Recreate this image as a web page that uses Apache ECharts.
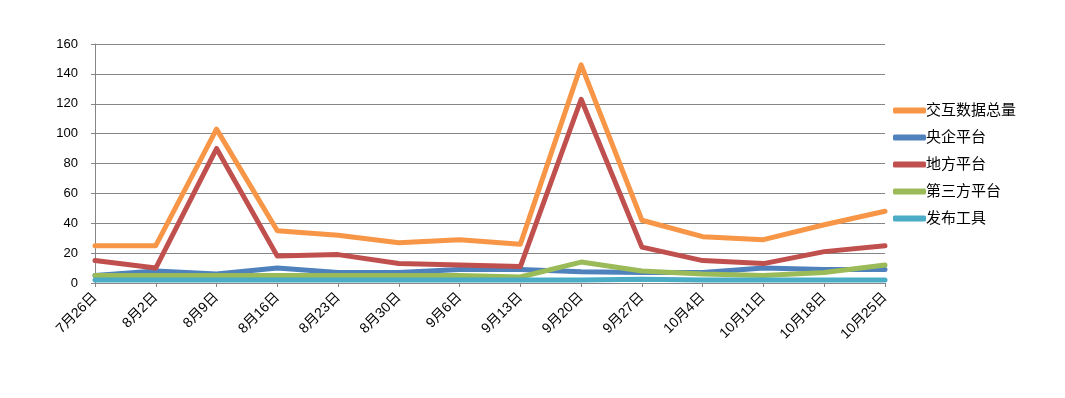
<!DOCTYPE html>
<html>
<head>
<meta charset="utf-8">
<script src="https://cdn.jsdelivr.net/npm/echarts@6/dist/echarts.min.js"></script>
<style>
  html, body { margin: 0; padding: 0; background: #fff; }
  #chart { width: 1065px; height: 398px; }
</style>
</head>
<body>
<div id="chart"></div>
<script>
const dates = ["7月26日", "8月2日", "8月9日", "8月16日", "8月23日", "8月30日", "9月6日",
  "9月13日", "9月20日", "9月27日", "10月4日", "10月11日", "10月18日", "10月25日"];
const total = [25, 25, 103, 35, 32, 27, 29, 26, 146, 42, 31, 29, 39, 48];
const central = [5, 8, 6, 10, 7, 7, 9, 9, 7.5, 7, 7, 10, 9, 9];
const local = [15, 10, 90, 18, 19, 13, 12, 11, 123, 24, 15, 13, 21, 25];
const thirdParty = [5, 5, 5, 5, 5, 5, 5, 4, 14, 8, 6, 5, 7, 12];
const publishTool = [2, 2, 2, 2, 2, 2, 2, 2, 2, 2.5, 2, 2, 2, 2];

const names = ["交互数据总量", "央企平台", "地方平台", "第三方平台", "发布工具"];
const colors = ["#F79646", "#4F81BD", "#C0504D", "#9BBB59", "#4BACC6"];
const values = [total, central, local, thirdParty, publishTool];

const font = "'Liberation Sans', 'Noto Sans CJK SC', sans-serif";

const chart = echarts.init(document.getElementById("chart"));
chart.setOption({
  animation: false,
  color: colors,
  textStyle: { fontFamily: font },
  grid: { left: 95, right: 180, top: 44, bottom: 115 },
  legend: {
    orient: "vertical",
    left: 888,
    top: 98,
    itemWidth: 33,
    itemHeight: 6,
    itemGap: 12,
    icon: "roundRect",
    textStyle: { fontSize: 15, color: "#000", fontFamily: font, padding: [0, 0, 0, -5] },
    data: names
  },
  xAxis: {
    type: "category",
    boundaryGap: false,
    data: dates,
    axisLine: { lineStyle: { color: "#868686" } },
    axisTick: { show: true, length: 4, lineStyle: { color: "#868686" } },
    axisLabel: { rotate: 45, fontSize: 14, color: "#000", margin: 12, interval: 0 }
  },
  yAxis: {
    type: "value",
    min: 0,
    max: 160,
    interval: 20,
    axisLine: { show: true, lineStyle: { color: "#868686" } },
    axisTick: { show: true, length: 4, lineStyle: { color: "#868686" } },
    axisLabel: { fontSize: 13, color: "#000", margin: 17 },
    splitLine: { lineStyle: { color: "#868686", width: 1 } }
  },
  series: names.map((name, i) => ({
    name: name,
    type: "line",
    data: values[i],
    symbol: "none",
    lineStyle: { width: 5, color: colors[i], cap: "round", join: "round" }
  }))
});
</script>
</body>
</html>
